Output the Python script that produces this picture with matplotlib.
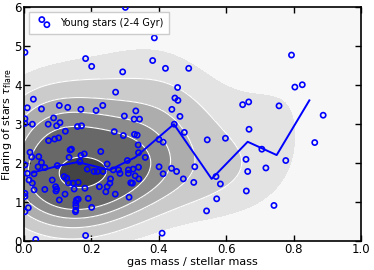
import numpy as np
import matplotlib
matplotlib.use("Agg")
import matplotlib.pyplot as plt
from matplotlib.collections import PathCollection
from matplotlib.legend_handler import HandlerPathCollection

# young stars (2-4 Gyr): gas fraction vs flaring
gas_frac = [0.387, 0.183, 0.201, 0.382, 0.293, 0.420, 0.489, 0.003, 0.794, 0.804,
            0.826, 0.888, 0.863, 0.456, 0.448, 0.457, 0.439, 0.463, 0.476, 0.272,
            0.028, 0.010, 0.052, 0.105, 0.130, 0.169, 0.214, 0.234, 0.298, 0.332,
            0.327, 0.343, 0.003, 0.003, 0.025, 0.088, 0.072, 0.097, 0.107, 0.123,
            0.159, 0.171, 0.268, 0.295, 0.328, 0.336, 0.073, 0.091, 0.103, 0.401,
            0.413, 0.339, 0.544, 0.598, 0.649, 0.667, 0.757, 0.668, 0.446, 0.301,
            0.018, 0.023, 0.044, 0.003, 0.010, 0.030, 0.042, 0.052, 0.062, 0.015,
            0.025, 0.030, 0.062, 0.003, 0.003, 0.013, 0.003, 0.084, 0.094, 0.095,
            0.097, 0.105, 0.122, 0.099, 0.119, 0.127, 0.132, 0.137, 0.141, 0.134,
            0.146, 0.149, 0.161, 0.169, 0.179, 0.166, 0.156, 0.161, 0.154, 0.154,
            0.154, 0.153, 0.181, 0.191, 0.201, 0.188, 0.208, 0.218, 0.224, 0.228,
            0.235, 0.247, 0.243, 0.247, 0.257, 0.255, 0.265, 0.271, 0.285, 0.281,
            0.307, 0.310, 0.310, 0.317, 0.322, 0.324, 0.330, 0.340, 0.341, 0.312,
            0.340, 0.360, 0.401, 0.413, 0.438, 0.453, 0.473, 0.507, 0.504, 0.570,
            0.583, 0.572, 0.542, 0.659, 0.664, 0.660, 0.718, 0.706, 0.742, 0.777,
            0.183, 0.035, 0.410]
flaring = [5.21, 4.68, 4.48, 4.63, 4.34, 4.43, 4.43, 4.84, 4.77, 3.95,
           4.01, 3.23, 2.53, 3.94, 3.67, 3.61, 3.38, 3.20, 2.79, 3.82,
           3.64, 3.42, 3.39, 3.48, 3.43, 3.38, 3.35, 3.48, 3.21, 3.34,
           3.13, 3.13, 3.14, 3.02, 3.00, 3.16, 3.00, 2.96, 3.04, 2.82,
           2.94, 2.96, 2.81, 2.71, 2.74, 2.72, 2.58, 2.62, 2.65, 2.61,
           2.54, 2.47, 2.60, 2.64, 3.50, 3.57, 3.47, 2.87, 3.00, 5.99,
           2.28, 2.16, 2.17, 1.96, 1.74, 1.73, 1.91, 2.02, 1.89, 1.57,
           1.49, 1.32, 1.33, 1.23, 1.15, 0.86, 0.76, 1.57, 1.40, 1.29,
           1.34, 1.06, 1.21, 1.94, 1.66, 1.62, 1.50, 2.34, 2.36, 2.15,
           1.49, 1.34, 1.51, 2.20, 2.24, 2.04, 1.06, 1.08, 0.99, 0.91,
           0.80, 0.76, 1.36, 1.10, 0.87, 1.85, 1.79, 1.79, 1.40, 2.30,
           1.79, 1.98, 1.27, 1.40, 1.60, 1.49, 1.83, 1.21, 1.74, 1.83,
           2.07, 1.83, 1.74, 1.50, 1.49, 1.85, 1.68, 1.90, 1.60, 1.13,
           2.27, 2.15, 1.91, 1.73, 1.87, 1.79, 1.60, 1.91, 1.51, 1.66,
           1.47, 1.09, 0.78, 2.10, 1.79, 1.29, 1.88, 2.36, 0.92, 2.07,
           0.15, 0.05, 0.21]

# binned median trend
bin_x = [0.025, 0.10, 0.16, 0.255, 0.33, 0.445, 0.557, 0.664, 0.750, 0.847]
bin_y = [1.76, 1.93, 2.03, 1.83, 2.15, 3.00, 1.60, 2.55, 2.21, 3.61]

xt = [0.0, 0.2, 0.4, 0.6, 0.8, 1.0]
yt = [0, 1, 2, 3, 4, 5, 6]

gx = np.array(gas_frac)
gy = np.array(flaring)

# density of the sample on a grid (gaussian kernel)
xx, yy = np.meshgrid(np.linspace(-0.05, 1.05, 220), np.linspace(-0.5, 6.5, 220))
bw_x, bw_y = 0.11, 0.75
dens = np.zeros_like(xx)
for px, py in zip(gx, gy):
    dens += np.exp(-0.5 * (((xx - px) / bw_x) ** 2 + ((yy - py) / bw_y) ** 2))
dens /= dens.max()

levels = [0.0, 0.13, 0.24, 0.38, 0.52, 0.66, 0.94, 1.01]
greys = ['#f7f7f7', '#e3e3e3', '#cbcbcb', '#adadad', '#8c8c8c', '#686868', '#444444']

fig = plt.figure(figsize=(3.74, 2.70), dpi=100)
ax = fig.add_axes([0.064, 0.106, 0.901, 0.868])

ax.contourf(xx, yy, dens, levels=levels, colors=greys)
ax.contour(xx, yy, dens, levels=levels[2:-1], colors='white', linewidths=0.8)

ax.scatter(gx, gy, s=14, facecolors='none', edgecolors='blue', linewidths=1.2,
           label='Young stars (2-4 Gyr)', zorder=3)
ax.plot(bin_x, bin_y, color='blue', lw=1.4, zorder=3)

ax.set_xlim(0, 1)
ax.set_ylim(0, 6)
ax.set_xticks(xt)
ax.set_yticks(yt)
ax.set_xticklabels(['0.0', '0.2', '0.4', '0.6', '0.8', '1.0'])
ax.tick_params(direction='in', top=True, right=True, length=4, width=1,
               labelsize=8.5, pad=1.5)
for sp in ax.spines.values():
    sp.set_linewidth(1.2)

ax.set_xlabel('gas mass / stellar mass', fontsize=8, labelpad=0.5)
ax.set_ylabel(r'Flaring of stars $\tau_{\rm flare}$', fontsize=8, labelpad=0)

ax.legend(loc='upper left', fontsize=7, scatterpoints=2, scatteryoffsets=[0.9, 0.15],
          handlelength=2.0, handletextpad=0.6, borderpad=0.6, fancybox=False,
          framealpha=1, edgecolor='#cccccc', borderaxespad=0.5,
          handler_map={PathCollection: HandlerPathCollection(marker_pad=0.74)})

fig.savefig('out.png', dpi=100)
